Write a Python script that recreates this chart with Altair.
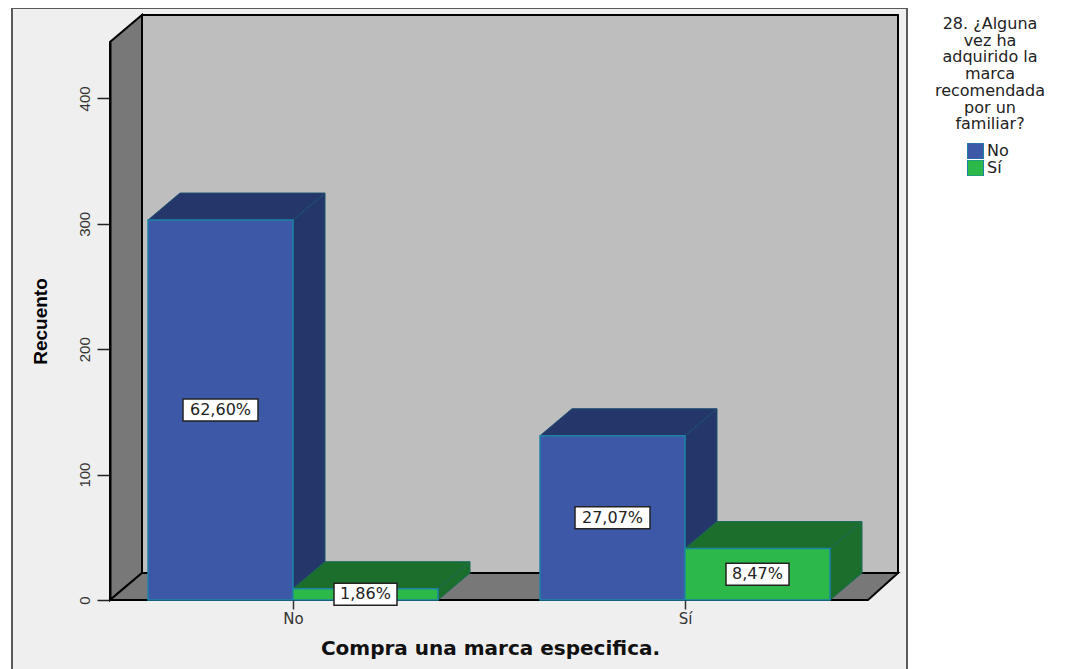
import altair as alt
import pandas as pd

# --- values ---
categories = ["No", "Sí"]
series = ["No", "Sí"]
counts_no = [303, 9]     # compra = No
counts_si = [131, 41]    # compra = Sí
labels_no = ["62,60%", "1,86%"]
labels_si = ["27,07%", "8,47%"]
y_ticks = [0, 100, 200, 300, 400]
legend_title = ["28. ¿Alguna", "vez ha", "adquirido la", "marca", "recomendada", "por un", "familiar?"]

# --- layout ---
W, H = 758, 558
Y_MAX = 445
CAT_STEP = 392
PX = H / Y_MAX
X_PAD = 183 / CAT_STEP
BAR_W = 145 / CAT_STEP
DX = 32 / CAT_STEP
DY = 27 / PX
FRONT = {"No": "#3e58a8", "Sí": "#2db84a"}
DARK = {"No": "#25366a", "Sí": "#1c6e2c"}
EDGE_DARK = {"No": "#1d4f6e", "Sí": "#1a6a58"}

x_scale = alt.Scale(domain=[-X_PAD, 1 + X_PAD], nice=False, zero=False)
y_scale = alt.Scale(domain=[0, Y_MAX], nice=False, zero=False)
x_axis = alt.Axis(values=[0, 1], labelExpr="datum.value == 0 ? 'No' : 'Sí'", grid=False, domain=False,
                  tickColor="#333333", tickSize=9, tickWidth=1.5, labelFont="DejaVu Sans",
                  labelFontSize=15, labelColor="#333333", labelPadding=2,
                  title="Compra una marca especifica.", titleFont="DejaVu Sans", titleFontWeight="bold",
                  titleFontSize=20, titleColor="#111111", titleX=380, titleY=48, titleBaseline="middle",
                  titleAlign="center", zindex=1)
y_axis = alt.Axis(values=y_ticks, grid=False, domainColor="#000000", domainWidth=2, tickColor="#222222",
                  tickSize=13, tickWidth=1.5, labelAngle=270, labelAlign="center", labelBaseline="bottom",
                  labelFont="Liberation Sans", labelFontSize=15, labelColor="#333333", labelPadding=5,
                  title="Recuento", titleFont="Liberation Sans", titleFontWeight="bold",
                  titleFontSize=19, titleColor="#000000", titleX=-70, titleY=279, titleAngle=270,
                  titleAlign="center", titleBaseline="middle", zindex=1)
X = lambda f="x": alt.X(f"{f}:Q", scale=x_scale, axis=x_axis)
Y = lambda f="y": alt.Y(f"{f}:Q", scale=y_scale, axis=y_axis, stack=None)
px_x = lambda p: (p - 293) / CAT_STEP
px_y = lambda p: (600 - p) / PX

# bars
bars = []
for ci, vals, labs in [(0, counts_no, labels_no), (1, counts_si, labels_si)]:
    for si, (v, lab) in enumerate(zip(vals, labs)):
        x0 = ci + (si - 1) * BAR_W
        bars.append(dict(id=f"{ci}{si}", series=series[si], x0=x0, x1=x0 + BAR_W, v=v, lab=lab,
                         xc=x0 + BAR_W / 2, yc=v / 2))
bars_df = pd.DataFrame(bars)

sides, tops = [], []
for b in bars:
    d = dict(id=b["id"], dark=DARK[b["series"]], edge=EDGE_DARK[b["series"]])
    sides += [dict(d, x=b["x1"], y=0, y2=b["v"]), dict(d, x=b["x1"] + DX, y=DY, y2=b["v"] + DY)]
    tops += [dict(d, x=b["x0"], y=b["v"], y2=b["v"]),
             dict(d, x=b["x0"] + DX, y=b["v"], y2=b["v"] + DY),
             dict(d, x=b["x1"], y=b["v"], y2=b["v"] + DY),
             dict(d, x=b["x1"] + DX, y=b["v"] + DY, y2=b["v"] + DY)]


def faces(rows):
    return alt.Chart(pd.DataFrame(rows)).mark_area(strokeWidth=1).encode(
        x=X(), y=Y(), y2="y2:Q",
        fill=alt.Fill("dark:N", scale=None),
        stroke=alt.Stroke("edge:N", scale=None),
        detail="id:N",
    )


# frame
frame = alt.Chart(pd.DataFrame([dict(x=px_x(12), x2=px_x(907), y=px_y(680), y2=px_y(8))])).mark_rect(
    fill="#efefef", stroke="#5a5a5a", strokeWidth=2
).encode(x=X(), x2="x2:Q", y=Y(), y2="y2:Q")

# walls
x_l, x_r = -X_PAD, 1 + X_PAD
DX_R = 30 / CAT_STEP
back = alt.Chart(pd.DataFrame([dict(x=x_l + DX, x2=x_r + DX_R, y=DY, y2=Y_MAX + DY)])).mark_rect(
    fill="#bebebe", stroke="#000000", strokeWidth=2
).encode(x=X(), x2="x2:Q", y=Y(), y2="y2:Q")
left = alt.Chart(pd.DataFrame([dict(x=x_l, y=0, y2=Y_MAX), dict(x=x_l + DX, y=DY, y2=Y_MAX + DY)])).mark_area(
    fill="#787878", stroke="#000000", strokeWidth=2
).encode(x=X(), y=Y(), y2="y2:Q")
floor = alt.Chart(pd.DataFrame([dict(x=x_l, y=0, y2=0), dict(x=x_l + DX, y=0, y2=DY),
                                dict(x=x_r, y=0, y2=DY), dict(x=x_r + DX_R, y=DY, y2=DY)])).mark_area(
    fill="#787878", stroke="#000000", strokeWidth=2
).encode(x=X(), y=Y(), y2="y2:Q")

# front faces and the legend
front = alt.Chart(bars_df).mark_rect(stroke="#1c83a4", strokeWidth=1.5).encode(
    x=X("x0"),
    x2="x1:Q",
    y=Y("v"),
    y2=alt.Y2(datum=0),
    fill=alt.Fill("series:N",
                  scale=alt.Scale(domain=series, range=[FRONT[s] for s in series]),
                  legend=alt.Legend(orient="none", legendX=857, legendY=101, title=None, symbolType="square",
                                    symbolSize=256, symbolStrokeColor="#1c83a4", symbolStrokeWidth=1,
                                    labelFont="DejaVu Sans", labelFontSize=16, labelColor="#222222",
                                    labelOffset=3, rowPadding=1, clipHeight=16)),
)

# data labels
long_box = alt.Chart(bars_df).transform_filter("length(datum.lab) > 5").mark_rect(
    width=75, height=22, fill="#ffffff", stroke="#222222", strokeWidth=1.5
).encode(x=X("xc"), y=Y("yc"))
short_box = alt.Chart(bars_df).transform_filter("length(datum.lab) <= 5").mark_rect(
    width=63, height=22, fill="#ffffff", stroke="#222222", strokeWidth=1.5
).encode(x=X("xc"), y=Y("yc"))
texts = alt.Chart(bars_df).mark_text(font="DejaVu Sans", fontSize=16, color="#222222", baseline="middle").encode(
    x=X("xc"), y=Y("yc"), text="lab:N")

# legend heading, centred over the swatches
heading = alt.Chart(pd.DataFrame([dict(x=px_x(990), y=px_y(24), t="\n".join(legend_title))])).mark_text(
    font="DejaVu Sans", fontSize=16, color="#222222", baseline="middle", align="center",
    lineBreak="\n", lineHeight=16.7
).encode(x=X(), y=Y(), text="t:N")

chart = alt.layer(frame, back, left, floor, faces(sides), faces(tops), front,
                  long_box, short_box, texts, heading).properties(
    width=W, height=H,
    autosize=alt.AutoSizeParams(type="none"),
    padding={"left": 102, "top": 34, "right": 196, "bottom": 69},
).configure_view(stroke=None)

chart.save("out.html", embed_options={"renderer": "svg", "actions": False})
